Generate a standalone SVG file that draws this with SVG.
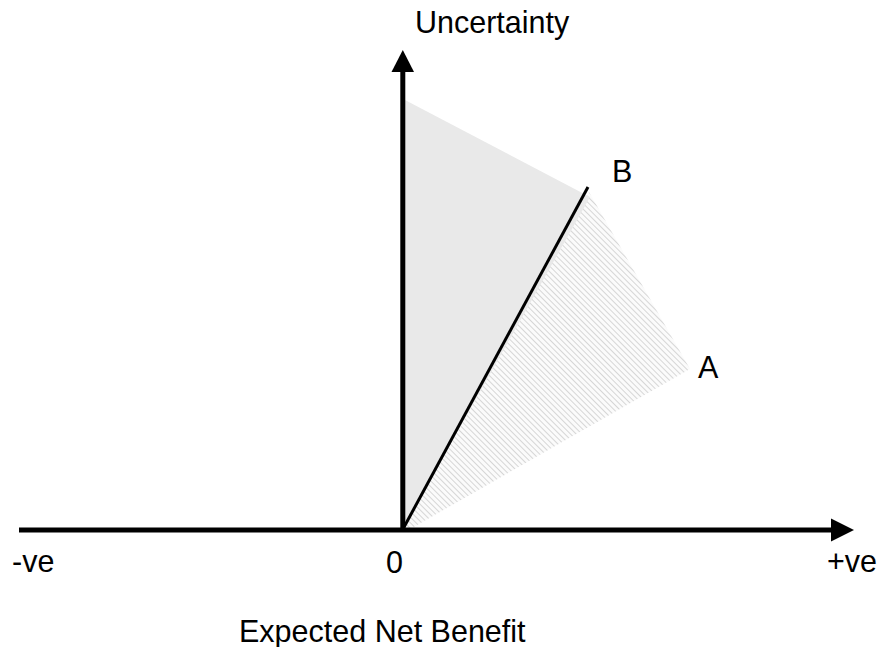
<svg xmlns="http://www.w3.org/2000/svg" width="880" height="647" viewBox="0 0 880 647">
  <style>
    .lbl { font-family: "Liberation Sans", Arial, sans-serif; font-size: 30.5px; fill: #000; }
    .axis { stroke: #000; stroke-width: 5; fill: none; }
    .head { fill: #000; }
  </style>
  <defs>
    <pattern id="hatch" patternUnits="userSpaceOnUse" width="4" height="4" patternTransform="rotate(-45)">
      <rect width="4" height="4" fill="#fbfbfb"/>
      <line x1="0" y1="0" x2="0" y2="4" stroke="#d6d6d6" stroke-width="2"/>
    </pattern>
  </defs>
  <rect width="880" height="647" fill="#fff"/>
  <g id="regionA">
    <polygon points="403,528 589,192 690,369 412,528" fill="url(#hatch)"/>
  </g>
  <g id="regionB">
    <polygon points="405,100 590,197 403,528" fill="#e9e9e9"/>
  </g>
  <g id="connectors">
    <line class="axis" x1="402.8" y1="531" x2="402.8" y2="70"/>
    <polygon class="head" points="391.5,72 414,72 402.8,50"/>
    <line class="axis" x1="19" y1="530" x2="833" y2="530"/>
    <polygon class="head" points="831,518.5 831,541.5 854,530"/>
    <line x1="403" y1="529" x2="588" y2="187" stroke="#000" stroke-width="3"/>
  </g>
  <g id="labels">
    <text class="lbl" x="415" y="33">Uncertainty</text>
    <text class="lbl" x="612" y="182">B</text>
    <text class="lbl" x="698" y="378">A</text>
    <text class="lbl" x="12" y="572">-ve</text>
    <text class="lbl" x="386" y="573">0</text>
    <text class="lbl" x="827" y="572">+ve</text>
    <text class="lbl" x="239" y="642">Expected Net Benefit</text>
  </g>
</svg>
